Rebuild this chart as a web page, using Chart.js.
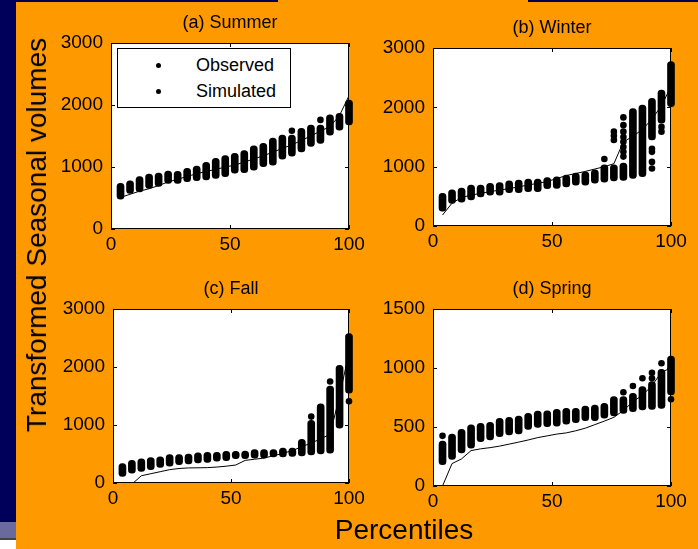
<!DOCTYPE html>
<html>
<head>
<meta charset="utf-8">
<script src="https://cdn.jsdelivr.net/npm/chart.js@4.4.1/dist/chart.umd.min.js"></script>
<style>
    html, body { margin: 0; padding: 0; }
    body {
        width: 698px; height: 549px; position: relative; overflow: hidden;
        background: #ff9900;
        font-family: "Liberation Sans", Arial, sans-serif;
    }
    .block { position: absolute; }
    canvas { position: absolute; }
    #yTitle {
        position: absolute; left: 37px; top: 235px;
        transform: translate(-50%, -50%) rotate(-90deg);
        font-size: 28px; white-space: nowrap; color: #000;
    }
    #xTitle {
        position: absolute; left: 404px; top: 530px;
        transform: translate(-50%, -50%);
        font-size: 28px; white-space: nowrap; color: #000;
    }
    #legend {
        position: absolute; left: 117px; top: 48px; width: 172px; height: 58px;
        background: #fff; border: 1px solid #000;
    }
    #legend .row { position: absolute; left: 0; height: 20px; line-height: 20px; font-size: 18px; }
    #legend .dot { position: absolute; left: 38px; top: 8px; width: 5px; height: 5px; border-radius: 50%; background: #000; }
    #legend .txt { position: absolute; left: 78px; top: 0; white-space: nowrap; }
</style>
</head>
<body>
<!-- slide background pieces -->
<div class="block" style="left:0;top:0;width:16px;height:522px;background:#00005a"></div>
<div class="block" style="left:0;top:522px;width:16px;height:16px;background:#6a6a9c"></div>
<div class="block" style="left:0;top:538px;width:16px;height:2px;background:#444"></div>
<div class="block" style="left:0;top:540px;width:16px;height:9px;background:#fff"></div>
<div class="block" style="left:0;top:0;width:278px;height:2px;background:#00005a"></div>
<div class="block" style="left:528px;top:0;width:170px;height:2px;background:#00005a"></div>

<canvas id="cSummer"></canvas>
<canvas id="cWinter"></canvas>
<canvas id="cFall"></canvas>
<canvas id="cSpring"></canvas>

<div id="legend">
    <div class="row" style="top:6px;width:100%"><span class="dot"></span><span class="txt">Observed</span></div>
    <div class="row" style="top:32px;width:100%"><span class="dot"></span><span class="txt">Simulated</span></div>
</div>
<div id="yTitle">Transformed Seasonal volumes</div>
<div id="xTitle">Percentiles</div>

<script>
// percentile positions of the simulated columns / observed line
const pct = [4, 8, 12, 16, 20, 24, 28, 32, 36, 40, 44, 48, 52, 56, 60, 64, 68, 72, 76, 80, 84, 88, 92, 96, 100];

// tick labels
const pctTicks = [0, 50, 100];
const volTicks = [0, 1000, 2000, 3000];
const springTicks = [0, 500, 1000, 1500];

// (a) Summer
const summerLo  = [480, 575, 600, 655, 685, 735, 737, 763, 780, 790, 815, 845, 900, 910, 950, 1005, 1030, 1125, 1175, 1245, 1330, 1380, 1515, 1595, 1680];
const summerHi  = [735, 775, 845, 885, 900, 935, 930, 980, 1015, 1075, 1140, 1185, 1220, 1265, 1340, 1380, 1465, 1515, 1515, 1625, 1675, 1675, 1840, 1865, 2080];
const summerObs = [510, 560, 610, 650, 700, 760, 800, 850, 890, 930, 960, 1000, 1030, 1080, 1130, 1180, 1240, 1300, 1355, 1430, 1500, 1580, 1650, 1830, 2150];
const summerExtraX = [76, 88];
const summerExtraY = [1585, 1760];

// (b) Winter
const winterLo  = [250, 380, 400, 440, 490, 520, 520, 560, 560, 580, 580, 630, 635, 660, 690, 690, 720, 740, 760, 770, 800, 830, 1450, 1735, 2010];
const winterHi  = [550, 610, 640, 690, 690, 720, 730, 760, 775, 790, 790, 815, 830, 860, 890, 915, 945, 1030, 1030, 1060, 1980, 2040, 2150, 2290, 2770];
const winterObs = [185, 385, 480, 520, 550, 580, 605, 630, 660, 690, 720, 750, 800, 850, 885, 920, 960, 1000, 1050, 1420, 1510, 1630, 1800, 2030, 2350];
const winterExtraX = [72, 76, 76, 76, 80, 80, 80, 80, 80, 80, 80, 80, 92, 92, 92, 92, 96, 96];
const winterExtraY = [1130, 1450, 1520, 1590, 1170, 1250, 1330, 1420, 1500, 1590, 1700, 1830, 1300, 1250, 1080, 970, 1670, 1590];

// (c) Fall
const fallLo  = [115, 170, 200, 230, 270, 290, 315, 330, 345, 355, 375, 385, 420, 420, 430, 430, 450, 450, 460, 465, 485, 500, 515, 945, 1550];
const fallHi  = [335, 390, 415, 440, 450, 490, 490, 500, 520, 530, 530, 545, 545, 550, 575, 575, 575, 600, 600, 755, 1080, 1365, 1670, 2030, 2575];
const fallObs = [-300, -20, 125, 160, 195, 230, 250, 260, 262, 265, 275, 290, 310, 390, 410, 430, 470, 510, 560, 625, 690, 760, 840, 1500, 2250];
const fallExtraX = [84, 92, 100];
const fallExtraY = [1145, 1750, 1410];

// (d) Spring
const springLo  = [180, 225, 280, 320, 375, 390, 418, 432, 441, 480, 497, 503, 508, 525, 537, 553, 553, 574, 593, 616, 630, 644, 650, 658, 771];
const springHi  = [380, 440, 480, 518, 532, 540, 574, 582, 593, 616, 635, 638, 650, 658, 658, 678, 686, 701, 757, 757, 785, 842, 884, 989, 1102];
const springObs = [0, 190, 230, 300, 315, 325, 338, 355, 372, 390, 410, 425, 440, 450, 468, 490, 520, 550, 582, 640, 715, 770, 850, 965, 1000];
const springExtraX = [4, 80, 84, 88, 92, 92, 96, 100];
const springExtraY = [425, 794, 847, 913, 913, 960, 1040, 735];

const FONT = '"Liberation Sans", Arial, sans-serif';
Chart.defaults.color = '#000';
Chart.defaults.font.family = FONT;

// white plot box, black frame and inward tick marks (matlab look)
const frame = {
    id: 'frame',
    beforeDraw(chart) {
        const a = chart.chartArea, ctx = chart.ctx;
        ctx.save();
        ctx.fillStyle = '#fff';
        ctx.fillRect(a.left, a.top, a.right - a.left, a.bottom - a.top);
        ctx.restore();
    },
    afterDraw(chart) {
        const a = chart.chartArea, ctx = chart.ctx;
        const x = chart.scales.x, y = chart.scales.y;
        ctx.save();
        ctx.strokeStyle = '#000';
        ctx.lineWidth = 1;
        ctx.strokeRect(Math.round(a.left) + 0.5, Math.round(a.top) + 0.5,
            Math.round(a.right - a.left) - 1, Math.round(a.bottom - a.top) - 1);
        ctx.beginPath();
        x.ticks.forEach(t => {
            const px = Math.round(x.getPixelForValue(t.value)) + 0.5;
            ctx.moveTo(px, a.bottom); ctx.lineTo(px, a.bottom - 4);
            ctx.moveTo(px, a.top); ctx.lineTo(px, a.top + 4);
        });
        y.ticks.forEach(t => {
            const py = Math.round(y.getPixelForValue(t.value)) + 0.5;
            ctx.moveTo(a.left, py); ctx.lineTo(a.left + 4, py);
            ctx.moveTo(a.right, py); ctx.lineTo(a.right - 4, py);
        });
        ctx.stroke();
        ctx.restore();
    }
};

function makeChart(id, box, title, lo, hi, obs, exX, exY, yTicks) {
    const cv = document.getElementById(id);
    // box = plot area in page pixels: left, top, right, bottom
    const yW = 60, xH = 30, titleH = 31, padR = 25;
    cv.width = (box[2] - box[0]) + yW + padR;
    cv.height = (box[3] - box[1]) + titleH + xH;
    cv.style.left = (box[0] - yW) + 'px';
    cv.style.top = (box[1] - titleH) + 'px';

    return new Chart(cv, {
        type: 'scatter',
        data: {
            datasets: [
                {
                    type: 'line',
                    data: pct.map((p, i) => ({ x: p, y: obs[i] })),
                    borderColor: '#000', borderWidth: 1, pointRadius: 0, tension: 0
                },
                {
                    type: 'bar',
                    data: pct.map((p, i) => ({ x: p, y: [lo[i], hi[i]] })),
                    backgroundColor: '#000', borderWidth: 0,
                    barThickness: 7, borderRadius: 4, borderSkipped: false,
                    clip: false
                },
                {
                    type: 'scatter',
                    data: exX.map((v, i) => ({ x: v, y: exY[i] })),
                    backgroundColor: '#000', borderWidth: 0, pointRadius: 3.3,
                    clip: false
                }
            ]
        },
        options: {
            responsive: false,
            animation: false,
            events: [],
            layout: { padding: { top: 0, right: padR, bottom: 0, left: 0 } },
            plugins: {
                legend: { display: false },
                tooltip: { enabled: false },
                title: {
                    display: true, text: title, fullSize: false, color: '#000',
                    font: { size: 18, weight: 'normal', family: FONT },
                    padding: { top: 0, bottom: 9.4 }
                }
            },
            scales: {
                x: {
                    type: 'linear', min: 0, max: 100, offset: false,
                    grid: { display: false, drawTicks: false },
                    border: { display: false },
                    ticks: { font: { size: 19 }, padding: 4, maxRotation: 0, autoSkip: false, callback: v => String(v) },
                    afterBuildTicks: s => { s.ticks = pctTicks.map(v => ({ value: v })); },
                    afterFit: s => { s.height = xH; }
                },
                y: {
                    type: 'linear', min: yTicks[0], max: yTicks[yTicks.length - 1],
                    grid: { display: false, drawTicks: false },
                    border: { display: false },
                    ticks: { font: { size: 19 }, padding: 8, autoSkip: false, callback: v => String(v) },
                    afterBuildTicks: s => { s.ticks = yTicks.map(v => ({ value: v })); },
                    afterFit: s => { s.width = yW; }
                }
            }
        },
        plugins: [frame]
    });
}

makeChart('cSummer', [111, 43, 349, 229], '(a) Summer', summerLo, summerHi, summerObs, summerExtraX, summerExtraY, volTicks);
makeChart('cWinter', [433, 48, 671, 226], '(b) Winter', winterLo, winterHi, winterObs, winterExtraX, winterExtraY, volTicks);
makeChart('cFall',   [113, 309, 349, 483], '(c) Fall', fallLo, fallHi, fallObs, fallExtraX, fallExtraY, volTicks);
makeChart('cSpring', [433, 309, 671, 486], '(d) Spring', springLo, springHi, springObs, springExtraX, springExtraY, springTicks);
</script>
</body>
</html>
